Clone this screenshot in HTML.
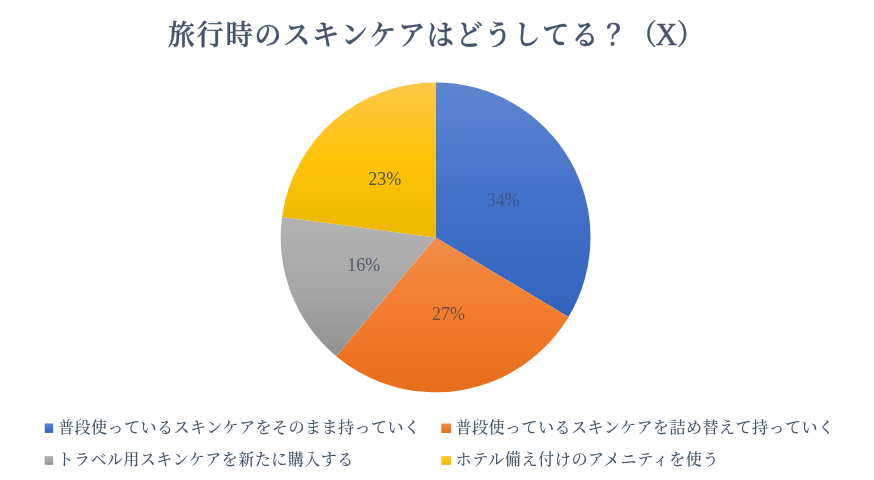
<!DOCTYPE html>
<html lang="ja"><head><meta charset="utf-8"><title>旅行時のスキンケアはどうしてる？</title>
<style>
html,body{margin:0;padding:0;background:#fff;}
body{width:874px;height:480px;position:relative;overflow:hidden;font-family:"Liberation Serif","Noto Serif CJK JP","Noto Serif CJK SC",serif;color:#44546A;}
.title{position:absolute;left:167.8px;top:16px;font-size:28.6px;line-height:40px;font-weight:600;-webkit-text-stroke:0.3px #44546A;white-space:nowrap;letter-spacing:2.12px;transform:scaleX(0.94);transform-origin:0 50%;}
.title .x{font-size:32px;line-height:1px;font-weight:400;-webkit-text-stroke:0.5px #44546A;letter-spacing:0;margin:0 -0.6px 0 -3.6px;}
.title .p{margin-left:1.0px;}
svg{position:absolute;left:0;top:0;}
.soft{position:absolute;left:0;top:0;width:874px;height:480px;filter:blur(0.45px);}
.lbl{position:absolute;font-size:18px;line-height:18px;white-space:nowrap;color:#44546A;transform:scaleY(1.08);transform-origin:50% 80%;}
.leg{position:absolute;font-size:16.1px;line-height:24px;white-space:nowrap;letter-spacing:0.4px;font-weight:500;}
</style></head><body>
<div class="soft">
<div class="title">旅行時のスキンケアはどうしてる？<span class="p">（</span><span class="x">X</span>）</div>
<svg width="874" height="480" viewBox="0 0 874 480"><defs><linearGradient id="gb" x1="0" y1="0" x2="0" y2="1"><stop offset="0" stop-color="#5F85CF"/><stop offset="0.5" stop-color="#4371C9"/><stop offset="1" stop-color="#3263BD"/></linearGradient><linearGradient id="go" x1="0" y1="0" x2="0" y2="1"><stop offset="0" stop-color="#F28D49"/><stop offset="0.5" stop-color="#F37C2C"/><stop offset="1" stop-color="#E56E1B"/></linearGradient><linearGradient id="gg" x1="0" y1="0" x2="0" y2="1"><stop offset="0" stop-color="#B3B3B3"/><stop offset="0.5" stop-color="#A7A7A7"/><stop offset="1" stop-color="#929292"/></linearGradient><linearGradient id="gy" x1="0" y1="0" x2="0" y2="1"><stop offset="0" stop-color="#FFC746"/><stop offset="0.5" stop-color="#FFC307"/><stop offset="1" stop-color="#EBB800"/></linearGradient></defs>
<path d="M435.6 237.4L435.60 82.50A154.9 154.9 0 0 1 568.51 316.95Z" fill="url(#gb)"/><path d="M435.6 237.4L568.51 316.95A154.9 154.9 0 0 1 336.24 356.23Z" fill="url(#go)"/><path d="M435.6 237.4L336.24 356.23A154.9 154.9 0 0 1 282.06 216.91Z" fill="url(#gg)"/><path d="M435.6 237.4L282.06 216.91A154.9 154.9 0 0 1 435.60 82.50Z" fill="url(#gy)"/>
<rect x="44.7" y="423.4" width="8.5" height="9.5" fill="url(#gb)"/>
<rect x="441.3" y="423.5" width="9.7" height="9.5" fill="url(#go)"/>
<rect x="44.7" y="456.15" width="8.5" height="8.7" fill="url(#gg)"/>
<rect x="441.3" y="456.15" width="9.7" height="8.7" fill="url(#gy)"/>
</svg>
<div class="lbl" style="left:368.2px;top:170.4px;color:#4F5340;">23%</div>
<div class="lbl" style="left:486.8px;top:191.3px;color:#3F5687;">34%</div>
<div class="lbl" style="left:347.3px;top:256.1px;color:#4C586A;">16%</div>
<div class="lbl" style="left:432px;top:305px;color:#6B4F48;">27%</div>
<div class="leg" style="left:58px;top:416px;">普段使っているスキンケアをそのまま持っていく</div>
<div class="leg" style="left:455.5px;top:416px;">普段使っているスキンケアを詰め替えて持っていく</div>
<div class="leg" style="left:58px;top:448px;transform:translateX(-0.6px);">トラベル用スキンケアを新たに購入する</div>
<div class="leg" style="left:455.5px;top:448px;letter-spacing:0.58px;">ホテル備え付けのアメニティを使う</div>
</div>
</body></html>
